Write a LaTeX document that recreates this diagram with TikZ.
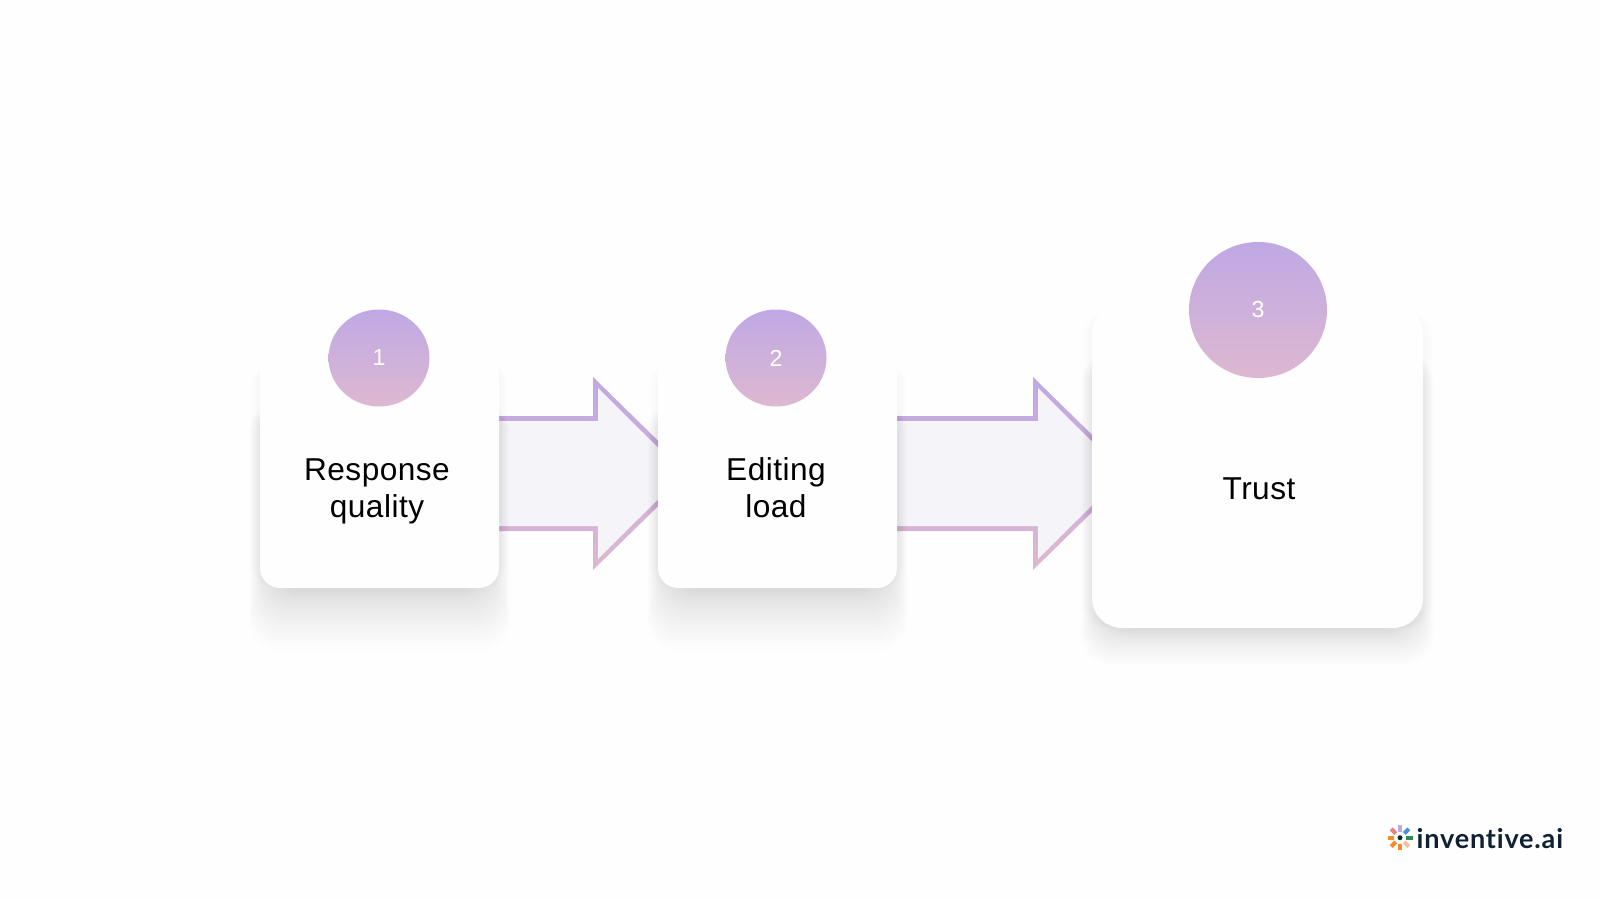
\documentclass[tikz,border=0pt]{standalone}
\usepackage{fontspec}
\setmainfont[LetterSpace=1.5]{Liberation Sans}
\newfontfamily\logofont[LetterSpace=3,Ligatures=NoCommon]{Lato}
\usetikzlibrary{shapes.geometric}
\definecolor{lilac}{HTML}{BFA8E4}
\definecolor{blush}{HTML}{DDB8D0}
\definecolor{paleback}{HTML}{FFFEFF}
\definecolor{arrowfill}{HTML}{F5F4F9}
\definecolor{logonavy}{HTML}{0F2233}
\tikzset{
    card/.style={fill=paleback, rounded corners=#1, inner sep=0pt},
    badge/.style={ellipse, top color=lilac, bottom color=blush, inner sep=0pt, text=white, font=\fontsize{6.6}{8}\selectfont},
    cardlabel/.style={align=center, text=black, font=\fontsize{9}{10.5}\selectfont}
}
% soft shadow under a card: centre x, centre y, half width, half height, reach below
\newcommand{\cardshadow}[5]{
    \foreach \s in {0.04,0.08,...,1.0}
        \fill[black, opacity=0.007, rounded corners=0.3cm]
            ({#1-#3+0.2-0.32*\s},{#2-#4+0.02-#5*\s*\s}) rectangle ({#1+#3-0.2+0.32*\s},{#2+#4-0.5});
    \foreach \s in {0.03,0.06,0.09}
        \fill[black, opacity=0.006, rounded corners=0.25cm]
            ({#1-#3-\s},{#2-#4}) rectangle ({#1+#3+\s},{#2+#4-0.08});
}
\begin{document}
\begin{tikzpicture}
    \useasboundingbox (0,0) rectangle (16,9);
    \fill[paleback] (0,0) rectangle (16,9);

    % Block arrows
    \foreach \shift in {0,4.4} {
        \begin{scope}[xshift=\shift cm]
            \shade[top color=lilac, bottom color=blush]
                (4.57,4.84) -- (5.93,4.84) -- (5.93,5.23) -- (6.915,4.265)
                -- (5.93,3.30) -- (5.93,3.69) -- (4.57,3.69) -- cycle;
            \fill[arrowfill]
                (4.57,4.79) -- (5.98,4.79) -- (5.98,5.12) -- (6.84,4.265)
                -- (5.98,3.41) -- (5.98,3.74) -- (4.57,3.74) -- cycle;
        \end{scope}
    }

    % Shadows
    \cardshadow{3.795}{4.295}{1.195}{1.175}{0.7}
    \cardshadow{7.775}{4.295}{1.195}{1.175}{0.7}
    \cardshadow{12.575}{4.345}{1.655}{1.625}{0.42}

    % Cards
    \node[card=0.2cm, minimum width=2.39cm, minimum height=2.35cm] (cardA) at (3.795,4.295) {};
    \node[card=0.2cm, minimum width=2.39cm, minimum height=2.35cm] (cardB) at (7.775,4.295) {};
    \node[card=0.3cm, minimum width=3.31cm, minimum height=3.25cm] (cardC) at (12.575,4.345) {};

    % Number badges
    \node[badge, minimum width=1.01cm, minimum height=0.97cm] (badgeA) at (3.79,5.42) {1};
    \node[badge, minimum width=1.01cm, minimum height=0.97cm] (badgeB) at (7.76,5.42) {2};
    \node[badge, minimum width=1.38cm, minimum height=1.36cm] (badgeC) at (12.58,5.90) {3};

    % Labels
    \node[cardlabel] (labelA) at (3.77,4.09) {Response\\quality};
    \node[cardlabel] (labelB) at (7.76,4.12) {Editing\\load};
    \node[cardlabel] (labelC) at (12.59,4.11) {Trust};

    % Logo
    \foreach \ang/\col in {90/BFA8E4,0/2E8B57,180/F28C28,270/F28C28,135/EE7F7F,45/4A90D9,225/F28C28,315/F7BFA0} {
        \definecolor{petal}{HTML}{\col}
        \fill[petal, shift={(14.00,0.623)}, rotate=\ang] (0.06,-0.02) rectangle (0.125,0.02);
    }
    \fill[logonavy] (14.00,0.623) circle (0.025);
    \node[anchor=base west, inner sep=0pt, text=logonavy, font=\logofont\bfseries\fontsize{7.7}{9}\selectfont] (logo) at (14.16,0.52) {inventive.ai};
\end{tikzpicture}
\end{document}
